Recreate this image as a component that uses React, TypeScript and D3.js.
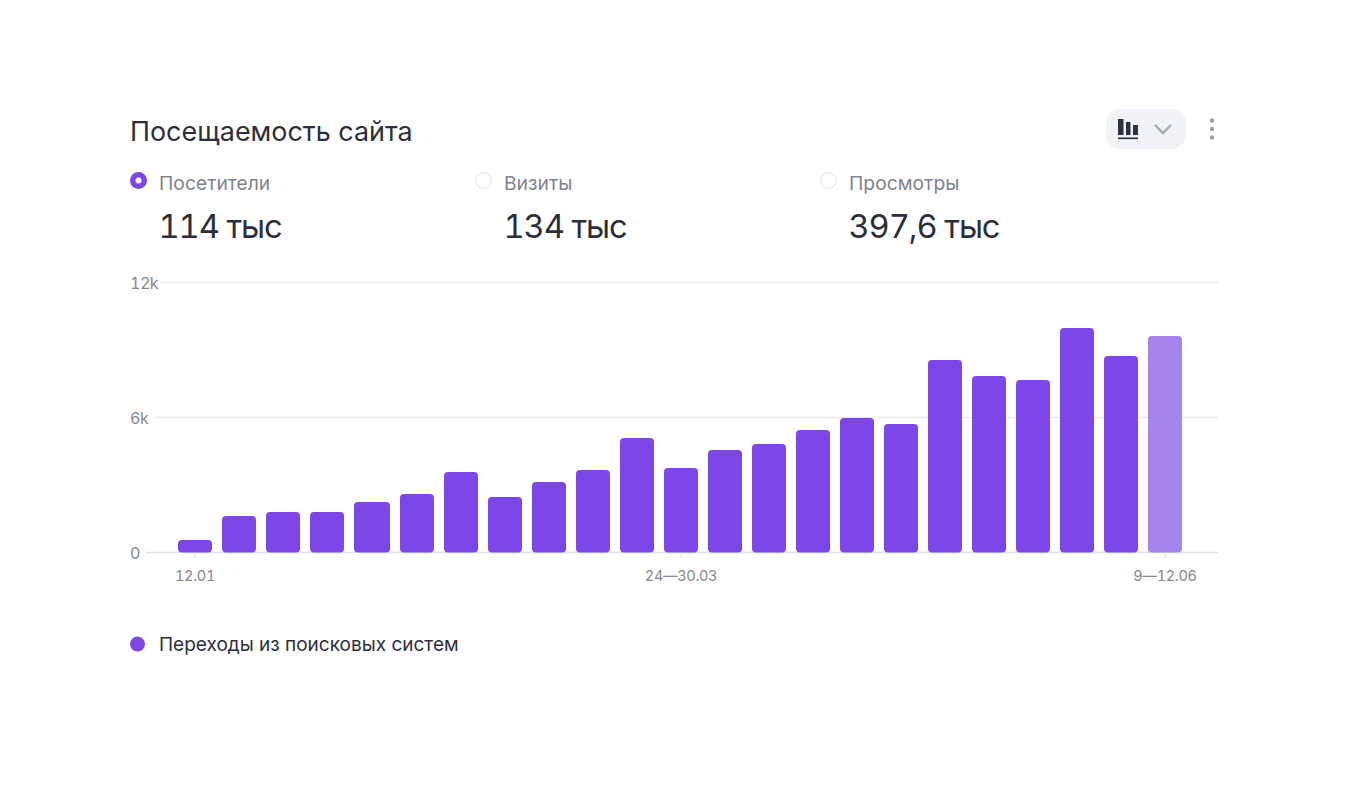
import React from 'react';
import * as d3 from 'd3';

const categories = ['12.01', '13-19.01', '20-26.01', '27.01-02.02', '03-09.02', '10-16.02', '17-23.02', '24.02-02.03', '03-09.03', '10-16.03', '17-23.03', '24—30.03', '31.03-06.04', '07-13.04', '14-20.04', '21-27.04', '28.04-04.05', '05-11.05', '12-18.05', '19-25.05', '26.05-01.06', '02-08.06', '9—12.06'];
const visitors = [555, 1620, 1800, 1800, 2245, 2600, 3580, 2470, 3130, 3670, 5090, 3755, 4555, 4820, 5445, 5980, 5710, 8555, 7845, 7665, 9980, 8735, 9620];
const yTicks = [0, 6000, 12000];
const xTickLabels = ['12.01', '24—30.03', '9—12.06'];
const metricLabels = ['Посетители', 'Визиты', 'Просмотры'];
const metricValues = ['114 тыс', '134 тыс', '397,6 тыс'];

const FONT = 'Inter, "Noto Sans", sans-serif';
const PURPLE = '#7c46e8';
const TNUM = { fontFeatureSettings: '"tnum"' };

export default function App() {
  // bar slots are not perfectly even in the source, one of them is 2px wider
  const xSlot = d3.scaleLinear().domain([0, 4, 5, 23]).range([178, 354, 400, 1192]);
  const y = d3.scaleLinear().domain([0, 12000]).range([552.5, 282.5]);
  const fmt = (v: number) => (v === 0 ? '0' : `${v / 1000}k`);
  const barWidth = (i: number) => xSlot(i + 1) - xSlot(i) - 10;

  return (
    <svg width={1356} height={800} style={{ position: 'absolute', left: 0, top: 0, background: '#fff' }} fontFamily={FONT}>
      <text x={130} y={141} fontSize={26.9} fill="#2c2f3a">Посещаемость сайта</text>

      {/* chart type switch */}
      <rect x={1106} y={109} width={80} height={40} rx={14} fill="#f1f3f8" />
      <g fill="#2e3240">
        <rect x={1118} y={119} width={5.5} height={16} />
        <rect x={1126} y={122} width={4.5} height={13} />
        <rect x={1133} y={125} width={5} height={10} />
        <rect x={1118} y={137.5} width={20} height={1.6} />
      </g>
      <path d="M1155 125 L1163 133 L1171 125" fill="none" stroke="#a3a8b8" strokeWidth={2.4} />
      {[120.5, 129, 137.5].map(cy => <circle key={cy} cx={1212} cy={cy} r={2.2} fill="#9a9da6" />)}

      {/* metrics */}
      {metricLabels.map((label, i) => {
        const left = 130 + i * 345;
        return (
          <g key={label}>
            {i === 0 ? (
              <>
                <circle cx={left + 8.5} cy={180.5} r={8.5} fill={PURPLE} />
                <circle cx={left + 8.5} cy={180.5} r={3} fill="#fff" />
              </>
            ) : (
              <circle cx={left + 8.5} cy={180.5} r={7.8} fill="#fff" stroke="#e9ebef" strokeWidth={1.5} />
            )}
            <text x={left + 29} y={189.5} fontSize={19.3} fill="#7f8290">{label}</text>
            <text x={left + 28.5} y={237.5} fontSize={32.7} letterSpacing={-1.1} fill="#2c2f3a" style={TNUM}>{metricValues[i]}</text>
          </g>
        );
      })}

      {/* grid and y labels */}
      {yTicks.map(t => {
        const label = fmt(t);
        const start = label.length === 1 ? 146 : label.length === 2 ? 156 : 160;
        return (
          <g key={t}>
            <line x1={start} x2={1218} y1={y(t)} y2={y(t)} stroke={t === 0 ? '#dfe1e8' : '#e8e9ed'} strokeWidth={1.5} />
            <text x={130} y={y(t) + 6} fontSize={16} letterSpacing={-0.5} fill="#85888f" style={TNUM}>{label}</text>
          </g>
        );
      })}

      {/* bars */}
      {categories.map((c, i) => (
        <rect
          key={c}
          x={xSlot(i)}
          y={y(visitors[i])}
          width={barWidth(i)}
          height={y(0) - y(visitors[i])}
          rx={4}
          fill={i === categories.length - 1 ? '#a684ee' : PURPLE}
        />
      ))}

      {/* x ticks */}
      {xTickLabels.map(t => {
        const i = categories.indexOf(t);
        const cx = xSlot(i) + barWidth(i) / 2;
        return (
          <g key={t}>
            <line x1={cx} x2={cx} y1={553} y2={558} stroke="#e2e3e8" strokeWidth={1} />
            <text x={cx} y={581} fontSize={14.5} letterSpacing={-0.3} textAnchor="middle" fill="#85888f" style={TNUM}>{t}</text>
          </g>
        );
      })}

      {/* legend */}
      <circle cx={137.5} cy={644} r={7.5} fill={PURPLE} />
      <text x={159} y={651} fontSize={19} fill="#2c2f3a">Переходы из поисковых систем</text>
    </svg>
  );
}
